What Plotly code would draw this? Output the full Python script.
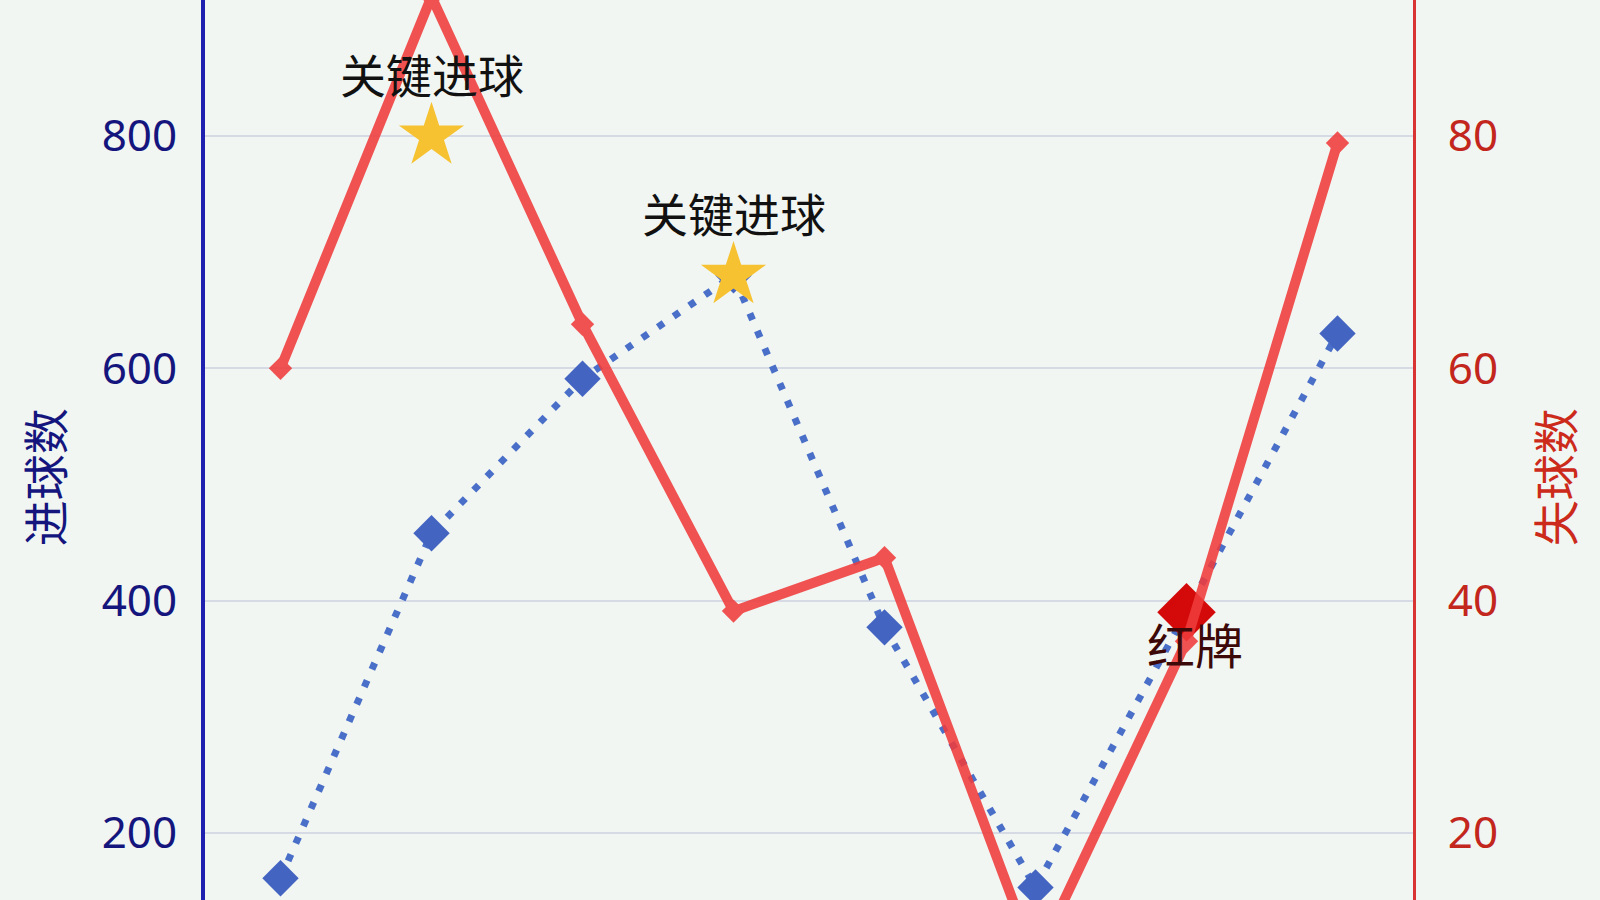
import plotly.graph_objects as go

# 比赛轮次（横轴标签在原图中被裁掉）
rounds = ["第1轮", "第2轮", "第3轮", "第4轮", "第5轮", "第6轮", "第7轮", "第8轮"]
goals_for = [161, 458, 591, 680, 377, 153, 390, 630]        # 进球数 (left axis)
goals_against = [60, 92, 63.8, 39.1, 43.7, 9, 36.5, 79.4]   # 失球数 (right axis)

# key moments
star_rounds = ["第2轮", "第4轮"]
star_values = [800, 680]
star_label = "关键进球"
red_card_round = "第7轮"
red_card_value = 390
red_card_label = "红牌"

left_ticks = [200, 400, 600, 800]
right_ticks = [20, 40, 60, 80]

bg = "#f1f6f2"
navy = "#15157e"
red_txt = "#c3261c"

fig = go.Figure()

fig.add_trace(go.Scatter(
    x=rounds, y=goals_for, mode="lines+markers", name="进球数",
    line=dict(color="#4a6fc8", width=7, dash="7px,12px"),
    marker=dict(symbol="diamond", size=28, color="#4464c2"),
))

fig.add_trace(go.Scatter(
    x=rounds, y=goals_against, yaxis="y2", mode="lines+markers", name="失球数",
    line=dict(color="#f03c3c", width=10),
    marker=dict(symbol="diamond", size=18, color="#f03c3c"),
    opacity=0.88,
))

fig.add_trace(go.Scatter(
    x=star_rounds, y=star_values, mode="markers", name=star_label,
    marker=dict(symbol="star", size=49, color="#f6c232"),
))

fig.add_trace(go.Scatter(
    x=[red_card_round], y=[red_card_value], mode="markers", name=red_card_label,
    marker=dict(symbol="diamond", size=45, color="#d40a0a"),
))

for r, v in zip(star_rounds, star_values):
    fig.add_annotation(x=r, y=v, text=star_label, showarrow=False, yshift=63,
                       font=dict(family="Noto Sans CJK SC", size=46, color="#111111"))

fig.add_annotation(x=red_card_round, y=red_card_value, text=red_card_label,
                   showarrow=False, yshift=-31, xshift=8,
                   font=dict(family="Noto Sans CJK SC", size=48, color="#3d0808"))

# axis titles placed by hand (plot area is cropped in the original)
fig.add_annotation(xref="paper", yref="paper", x=-0.134, y=0.47, text="进球数",
                   textangle=-90, showarrow=False, xanchor="center", yanchor="middle",
                   font=dict(family="Noto Sans CJK SC", size=46, color=navy))
fig.add_annotation(xref="paper", yref="paper", x=1.116, y=0.47, text="失球数",
                   textangle=-90, showarrow=False, xanchor="center", yanchor="middle",
                   font=dict(family="Noto Sans CJK SC", size=46, color="#cc2a1a"))

fig.update_layout(
    width=1600, height=900,
    margin=dict(l=205, r=187, t=0, b=0),
    paper_bgcolor=bg, plot_bgcolor=bg,
    showlegend=False,
    font=dict(family="Noto Sans"),
    xaxis=dict(range=[-0.5, 7.5], showgrid=False, showticklabels=False,
               zeroline=False, ticks=""),
    yaxis=dict(range=[142.3, 917.1], tickvals=left_ticks, showgrid=True,
               gridcolor="#d5dae5", gridwidth=2, zeroline=False,
               showline=True, linecolor="#2020b0", linewidth=4,
               tickfont=dict(size=44, color=navy), ticks="",
               ticklabelstandoff=15),
    yaxis2=dict(range=[14.23, 91.71], tickvals=right_ticks, overlaying="y",
                side="right", showgrid=False, zeroline=False,
                showline=True, linecolor="#d83434", linewidth=3,
                tickfont=dict(size=44, color=red_txt), ticks="",
                ticklabelstandoff=23),
)

fig.write_html("out.html", config={"displayModeBar": False},
               post_script="document.body.style.margin='0';"
                           "document.body.style.background='#f1f6f2';")
